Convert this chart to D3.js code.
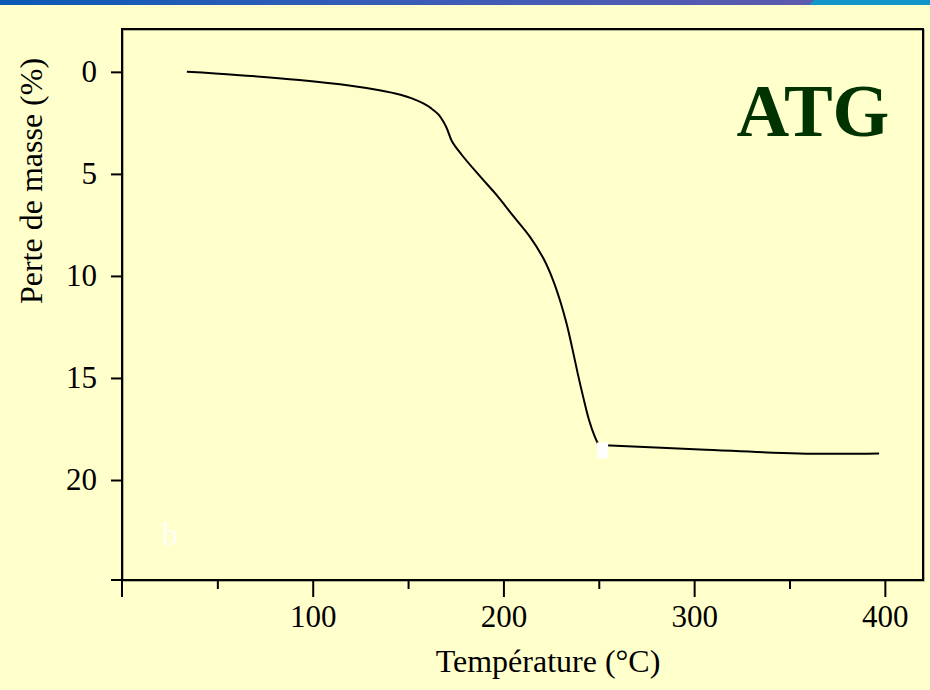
<!DOCTYPE html>
<html>
<head>
<meta charset="utf-8">
<script src="https://cdn.jsdelivr.net/npm/d3@7"></script>
<style>
  html, body { margin: 0; padding: 0; background: #ffffcc; }
  svg { display: block; }
  text { font-family: "Liberation Serif", "Times New Roman", serif; }
</style>
</head>
<body>
<script>
// Thermogravimetric curve: temperature (°C) vs. mass loss (%)
// first run: heating up to the main decomposition step
const temperature = [34, 60, 93, 120, 135, 146, 152, 158, 162, 166, 170, 173, 178, 188, 197, 205, 214, 221, 226, 230, 233, 236, 239, 242, 245, 248, 250];
const massLoss    = [0, 0.15, 0.4, 0.68, 0.9, 1.12, 1.3, 1.55, 1.78, 2.1, 2.7, 3.4, 4.05, 5.15, 6.1, 7.05, 8.1, 9.15, 10.2, 11.3, 12.3, 13.5, 14.8, 16.0, 17.1, 17.9, 18.3];
// second run: plateau after the step
const temperaturePlateau = [253, 303, 355, 397];
const massLossPlateau    = [18.3, 18.5, 18.7, 18.7];

const xMajorTicks = [100, 200, 300, 400];
const xMinorTicks = [50, 150, 250, 350];
const yTicks = [0, 5, 10, 15, 20];

// small blank patch where the recording jumps
const gapMarker = [{ temp: 252, loss: 18.55 }];

const W = 930, H = 690;
const svg = d3.select("body").append("svg").attr("width", W).attr("height", H);

// page background
svg.append("rect").attr("width", W).attr("height", H).attr("fill", "#ffffcc");

// header band
const defs = svg.append("defs");
const grad = defs.append("linearGradient").attr("id", "band")
  .attr("x1", 0).attr("x2", 1).attr("y1", 0).attr("y2", 0);
grad.append("stop").attr("offset", "0%").attr("stop-color", "#0a5ab6");
grad.append("stop").attr("offset", "50%").attr("stop-color", "#395cb8");
grad.append("stop").attr("offset", "100%").attr("stop-color", "#5c5aae");
svg.append("rect").attr("x", 0).attr("y", 0).attr("width", 814).attr("height", 5).attr("fill", "url(#band)");
svg.append("polygon").attr("points", "814,0 930,0 930,5 809,5").attr("fill", "#1096c8");

// scales
const plot = { left: 122, right: 923, top: 29, bottom: 580 };
const x = d3.scaleLinear().domain([0, 420]).range([plot.left, plot.right]);
const y = d3.scaleLinear().domain([-2.1, 24.9]).range([plot.top, plot.bottom]);

// frame
svg.append("rect")
  .attr("x", plot.left + 1).attr("y", plot.top + 1)
  .attr("width", plot.right - plot.left).attr("height", plot.bottom - plot.top)
  .attr("fill", "none").attr("stroke", "#9a9a80").attr("stroke-width", 1.5);
svg.append("rect")
  .attr("x", plot.left).attr("y", plot.top)
  .attr("width", plot.right - plot.left).attr("height", plot.bottom - plot.top)
  .attr("fill", "none").attr("stroke", "#000").attr("stroke-width", 2);

// axis extensions past the origin
svg.append("line").attr("x1", plot.left).attr("x2", plot.left)
  .attr("y1", plot.top).attr("y2", plot.bottom + 17).attr("stroke", "#000").attr("stroke-width", 2);
svg.append("line").attr("x1", plot.left - 11).attr("x2", plot.right)
  .attr("y1", plot.bottom).attr("y2", plot.bottom).attr("stroke", "#000").attr("stroke-width", 2);

// x axis: major ticks with labels
const xAxis = svg.append("g").attr("transform", `translate(0,${plot.bottom})`)
  .call(d3.axisBottom(x).tickValues(xMajorTicks).tickSize(17).tickPadding(8).tickFormat(d3.format("d")));
xAxis.select(".domain").remove();
xAxis.selectAll(".tick line").attr("stroke", "#000").attr("stroke-width", 2);
xAxis.selectAll(".tick text").attr("font-size", 31).attr("fill", "#000")
  .attr("font-family", "Liberation Serif, serif");

// x axis: minor ticks
const xMinor = svg.append("g").attr("transform", `translate(0,${plot.bottom})`)
  .call(d3.axisBottom(x).tickValues(xMinorTicks).tickSize(9).tickFormat(""));
xMinor.select(".domain").remove();
xMinor.selectAll(".tick line").attr("stroke", "#000").attr("stroke-width", 2);

// y axis
const yAxis = svg.append("g").attr("transform", `translate(${plot.left},0)`)
  .call(d3.axisLeft(y).tickValues(yTicks).tickSize(11).tickPadding(14).tickFormat(d3.format("d")));
yAxis.select(".domain").remove();
yAxis.selectAll(".tick line").attr("stroke", "#000").attr("stroke-width", 2);
yAxis.selectAll(".tick text").attr("font-size", 31).attr("fill", "#000")
  .attr("font-family", "Liberation Serif, serif");

// curve, drawn as its two recorded segments
const line = d3.line().x(d => x(d[0])).y(d => y(d[1])).curve(d3.curveCatmullRom.alpha(0.5));
const segments = [
  temperature.map((t, i) => [t, massLoss[i]]),
  temperaturePlateau.map((t, i) => [t, massLossPlateau[i]])
];
svg.selectAll("path.curve").data(segments).enter().append("path").attr("class", "curve")
  .attr("d", line)
  .attr("fill", "none").attr("stroke", "#000").attr("stroke-width", 2);

// blank patch over the curve
svg.selectAll("rect.gap").data(gapMarker).enter().append("rect").attr("class", "gap")
  .attr("x", d => x(d.temp) - 5.5).attr("y", d => y(d.loss) - 8)
  .attr("width", 11).attr("height", 16).attr("fill", "#ffffff");

// axis titles
svg.append("text").attr("x", 548).attr("y", 672).attr("text-anchor", "middle")
  .attr("font-size", 32).attr("fill", "#000").text("Température (°C)");
svg.append("text").attr("transform", "translate(42,181) rotate(-90)").attr("text-anchor", "middle")
  .attr("font-size", 32).attr("fill", "#000").text("Perte de masse (%)");

// panel title and panel letter
svg.append("text").attr("x", 813).attr("y", 136).attr("text-anchor", "middle")
  .attr("font-size", 73).attr("font-weight", "bold").attr("fill", "#003300").text("ATG");
svg.append("text").attr("x", 162).attr("y", 545)
  .attr("font-size", 32).attr("fill", "#ffffff").attr("fill-opacity", 0.9).text("b");
</script>
</body>
</html>
